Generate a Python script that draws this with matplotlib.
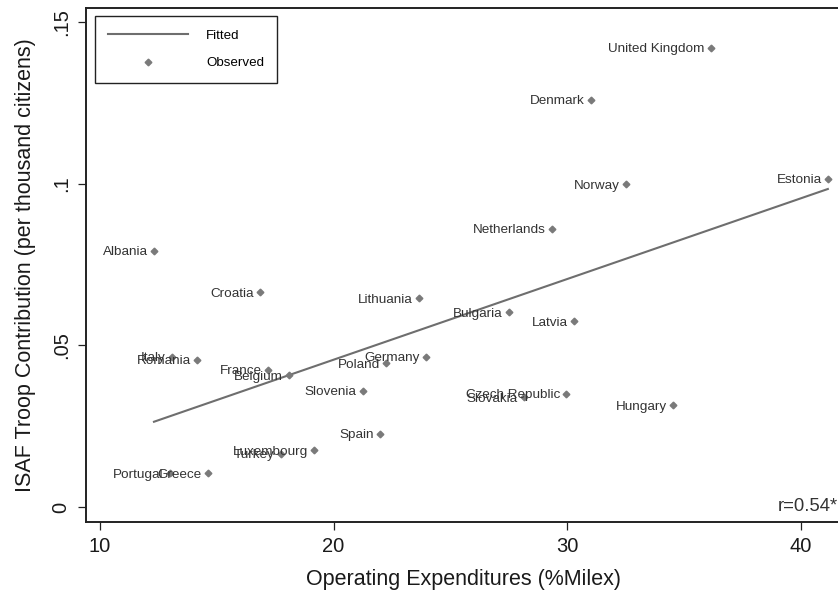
import numpy as np
import matplotlib
matplotlib.use("Agg")
import matplotlib.pyplot as plt
from matplotlib.lines import Line2D

plt.rcParams['font.family'] = ['Liberation Sans', 'DejaVu Sans']

# === DATA ===
COUNTRIES = [
    'United Kingdom', 'Denmark', 'Norway', 'Estonia', 'Netherlands',
    'Albania', 'Croatia', 'Lithuania', 'Bulgaria', 'Latvia',
    'Germany', 'Poland', 'Slovenia', 'Czech Republic', 'Slovakia',
    'Hungary', 'Spain', 'Italy', 'Romania', 'France',
    'Belgium', 'Luxembourg', 'Turkey', 'Greece', 'Portugal',
]
OPEX = [
    36.16, 31.02, 32.52, 41.16, 29.35,
    12.31, 16.85, 23.66, 27.51, 30.29,
    23.96, 22.24, 21.26, 29.95, 28.15,
    34.53, 21.99, 13.08, 14.15, 17.19,
    18.09, 19.16, 17.75, 14.62, 13.00,
]
TROOPS = [
    0.1420, 0.1259, 0.0999, 0.1015, 0.0860,
    0.0792, 0.0665, 0.0646, 0.0603, 0.0575,
    0.0464, 0.0445, 0.0359, 0.0350, 0.0340,
    0.0315, 0.0226, 0.0464, 0.0455, 0.0424,
    0.0408, 0.0176, 0.0164, 0.0105, 0.0105,
]
X_TICKS = [10, 20, 30, 40]
Y_TICKS = [0, 0.05, 0.1, 0.15]
Y_TICK_LABELS = ['0', '.05', '.1', '.15']
R_TEXT = 'r=0.54*'

# === STYLE ===
MARKER_COLOR = '#7a7a7a'
LINE_COLOR = '#6e6e6e'
LABEL_COLOR = '#333333'
AXIS_COLOR = '#222222'

x = np.array(OPEX)
y = np.array(TROOPS)

fig = plt.figure(figsize=(8.38, 5.98), dpi=100)
ax = fig.add_axes([86 / 838, 76 / 598, 754 / 838, 514.5 / 598])

# linear fit over the observed range
slope, intercept = np.polyfit(x, y, 1)
fx = np.array([x.min(), x.max()])
ax.plot(fx, intercept + slope * fx, color=LINE_COLOR, lw=1.5, zorder=2)

ax.plot(x, y, ls='none', marker='D', ms=3.4, color=MARKER_COLOR,
        mec=MARKER_COLOR, zorder=3)

for name, xi, yi in zip(COUNTRIES, x, y):
    ax.annotate(name, (xi, yi), xytext=(-4.5, 0), textcoords='offset points',
                ha='right', va='center_baseline', fontsize=9.7,
                color=LABEL_COLOR, zorder=4)

ax.text(41.6, 0, R_TEXT, ha='right', va='center', fontsize=13.3, color=LABEL_COLOR)

ax.set_xlim(9.40, 41.68)
ax.set_ylim(-0.00464, 0.1545)

ax.set_xticks(X_TICKS)
ax.set_xticklabels([str(t) for t in X_TICKS], fontsize=14.5)
ax.set_yticks(Y_TICKS)
ax.set_yticklabels(Y_TICK_LABELS, fontsize=14.5, rotation=90, va='center')
ax.tick_params(direction='out', length=6, width=0.9, color=AXIS_COLOR,
               labelcolor='#1a1a1a', pad=5)

ax.set_xlabel('Operating Expenditures (%Milex)', fontsize=15.5, color='#1a1a1a', labelpad=9)
ax.set_ylabel('ISAF Troop Contribution (per thousand citizens)', fontsize=15.5,
              color='#1a1a1a', labelpad=11)

for side in ['left', 'bottom', 'top', 'right']:
    ax.spines[side].set_linewidth(1.4)
    ax.spines[side].set_color(AXIS_COLOR)

handles = [
    Line2D([], [], color=LINE_COLOR, lw=1.5),
    Line2D([], [], ls='none', marker='D', ms=3.4, color=MARKER_COLOR),
]
leg = ax.legend(handles, ['Fitted', 'Observed'], loc='upper left', fontsize=9.6,
                frameon=True, fancybox=False, framealpha=1, edgecolor=AXIS_COLOR,
                handlelength=6.0, handletextpad=1.35,
                labelspacing=1.15, borderpad=1.0, borderaxespad=0.65)
leg.get_frame().set_linewidth(1.0)

fig.savefig('out.png', dpi=100, facecolor='white')
